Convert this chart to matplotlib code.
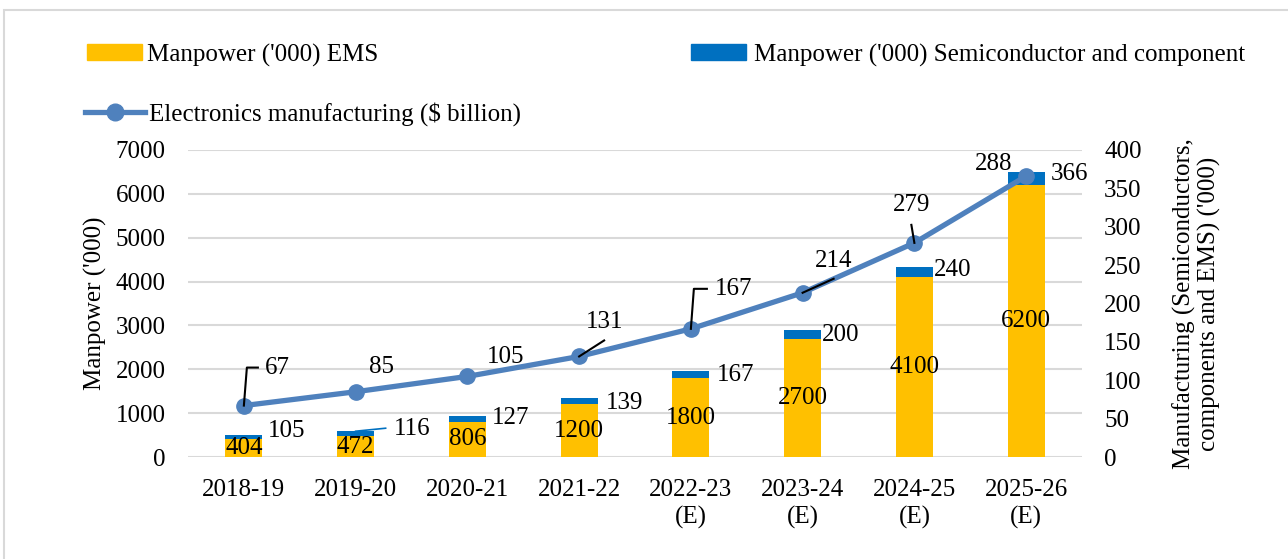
import numpy as np
import matplotlib.pyplot as plt
from matplotlib.patches import Patch, Rectangle
from matplotlib.lines import Line2D

plt.rcParams['font.family'] = ['Liberation Serif', 'DejaVu Serif']

years = ['2018-19', '2019-20', '2020-21', '2021-22', '2022-23\n(E)', '2023-24\n(E)', '2024-25\n(E)', '2025-26\n(E)']
ems = [404, 472, 806, 1200, 1800, 2700, 4100, 6200]
semi = [105, 116, 127, 139, 167, 200, 240, 288]
electronics = [67, 85, 105, 131, 167, 214, 279, 366]

# label offsets in pixels (dx, dy up)
semi_off = [(43, 4), (57, 2), (43, -2), (45, -5), (45, -4), (38, -5), (38, -3), (-32, 8)]
line_off = [(34, 38), (26, 25), (38, 19), (25, 34), (43, 40), (31, 32), (-3, 38), (43, 2)]
semi_lead = [None, ((0, 0), (30, 3)), None, None, None, None, None, None]
line_lead = [[(0, 0), (3, 38), (14, 38)], None, None, [(0, 0), (25, 16)],
             [(0, 0), (3, 40), (16, 40)], [(0, 0), (31, 14)], [(0, 0), (-3, 18)], None]

YEL = '#FFC000'
BLU = '#0070C0'
LINE = '#4F81BD'
FS = 18

fig = plt.figure(figsize=(12.88, 5.59), dpi=100)
ax = fig.add_axes([188 / 1288, 1 - 457 / 559, 894 / 1288, 307 / 559])
ax2 = ax.twinx()

x = np.arange(len(years))
w = 0.33
b1 = ax.bar(x, ems, w, color=YEL, zorder=2)
b2 = ax.bar(x, semi, w, bottom=ems, color=BLU, zorder=2)

ax.set_xlim(-0.5, len(years) - 0.5)
ax.set_ylim(0, 7000)
ax.set_yticks(range(0, 7001, 1000))
ax2.set_ylim(0, 400)
ax2.set_yticks(range(0, 401, 50))

ax.grid(axis='y', color='#D9D9D9', linewidth=1.5, zorder=0)
ax.set_axisbelow(True)
for a in (ax, ax2):
    for s in a.spines.values():
        s.set_visible(False)
    a.tick_params(length=0, labelsize=FS)
ax.tick_params(axis='y', pad=16)
ax2.tick_params(axis='y', pad=16)
ax.tick_params(axis='x', pad=16)
ax.set_xticks(x)
ax.set_xticklabels(years, fontsize=FS, linespacing=1.25)

ax2.plot(x, electronics, color=LINE, lw=3.8, marker='o', ms=11, zorder=4)

# data labels
for i in range(len(x)):
    ax.annotate(str(ems[i]), (x[i], ems[i] / 2), ha='center', va='center', fontsize=FS, zorder=5)
    top = ems[i] + semi[i]
    dx, dy = semi_off[i]
    ax.annotate(str(semi[i]), (x[i], top), xytext=(dx, dy), textcoords='offset pixels',
                ha='center', va='center', fontsize=FS, zorder=5)
    if semi_lead[i]:
        p0 = ax.transData.transform((x[i], top))
        pts = np.array([p0 + np.array(p) for p in semi_lead[i]])
        fig.lines.append(Line2D(pts[:, 0], pts[:, 1], transform=None, color=BLU, lw=1.2))
    dx, dy = line_off[i]
    ax2.annotate(str(electronics[i]), (x[i], electronics[i]), xytext=(dx, dy),
                 textcoords='offset pixels', ha='center', va='center', fontsize=FS, zorder=6)

fig.canvas.draw()
for i in range(len(x)):
    if line_lead[i]:
        p0 = ax2.transData.transform((x[i], electronics[i]))
        pts = np.array([p0 + np.array(p) for p in line_lead[i]])
        fig.lines.append(Line2D(pts[:, 0], pts[:, 1], transform=None, color='black', lw=1.5, zorder=7))

ax.set_ylabel("Manpower ('000)", fontsize=FS, labelpad=6)
ax2.set_ylabel("Manufacturing (Semiconductors,\ncomponents and EMS) ('000)", fontsize=FS,
               labelpad=22, linespacing=1.1)

# legend
leg_kw = dict(loc='center left', frameon=False, fontsize=FS, borderpad=0, borderaxespad=0)
fig.legend(handles=[Patch(color=YEL)], labels=["Manpower ('000) EMS"],
           bbox_to_anchor=(87 / 1288, 1 - 55 / 559), handlelength=2.2, handleheight=0.6,
           handletextpad=0.2, **leg_kw)
fig.legend(handles=[Patch(color=BLU)], labels=["Manpower ('000) Semiconductor and component"],
           bbox_to_anchor=(691 / 1288, 1 - 55 / 559), handlelength=2.2, handleheight=0.6,
           handletextpad=0.3, **leg_kw)
fig.legend(handles=[Line2D([], [], color=LINE, lw=3.8, marker='o', ms=12)],
           labels=["Electronics manufacturing ($ billion)"],
           bbox_to_anchor=(85 / 1288, 1 - 114 / 559), handlelength=2.4, handletextpad=0.15, **leg_kw)

fig.patches.append(Rectangle((4 / 1288, -0.1), 1.2, 1 - 10 / 559 + 0.1, transform=fig.transFigure,
                             fill=False, ec='#D9D9D9', lw=1.5))

fig.savefig('out.png', dpi=100)
